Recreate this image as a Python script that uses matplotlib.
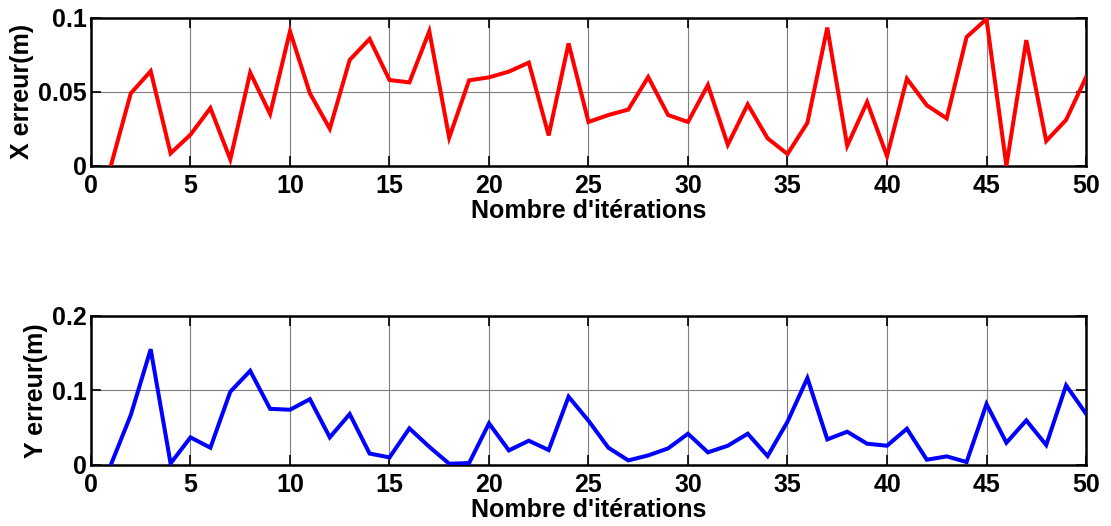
import matplotlib
matplotlib.use("Agg")
import matplotlib.pyplot as plt
import numpy as np

iterations = list(range(1, 51))

x_error = [0.000, 0.049, 0.064, 0.0084, 0.021, 0.039, 0.0043, 0.063, 0.035, 0.091,
           0.049, 0.025, 0.0716, 0.0858, 0.058, 0.0564, 0.091, 0.019, 0.0578, 0.0598,
           0.0637, 0.0698, 0.0205, 0.0828, 0.0296, 0.0343, 0.038, 0.060, 0.0343, 0.0296,
           0.0546, 0.0142, 0.0415, 0.0185, 0.0079, 0.029, 0.0935, 0.0135, 0.0431, 0.0065,
           0.0589, 0.0409, 0.032, 0.0871, 0.0993, 0.000, 0.085, 0.0167, 0.031, 0.0598]

y_error = [0.000, 0.0667, 0.155, 0.0018, 0.0367, 0.0228, 0.098, 0.126, 0.075, 0.0738,
           0.088, 0.0367, 0.068, 0.015, 0.0098, 0.0488, 0.024, 0.0013, 0.0022, 0.0555,
           0.0192, 0.0322, 0.0197, 0.0913, 0.059, 0.0228, 0.0058, 0.0125, 0.0219, 0.0416,
           0.0166, 0.0255, 0.0416, 0.0116, 0.0577, 0.1163, 0.034, 0.0443, 0.0282, 0.0255,
           0.0483, 0.0067, 0.0112, 0.0036, 0.0814, 0.0295, 0.0595, 0.0264, 0.1065, 0.0685]

x_ticks = [0, 5, 10, 15, 20, 25, 30, 35, 40, 45, 50]
top_yticks = [0, 0.05, 0.1]
top_yticklabels = ["0", "0.05", "0.1"]
bottom_yticks = [0, 0.1, 0.2]
bottom_yticklabels = ["0", "0.1", "0.2"]

xlabel_text = "Nombre d'itérations"
top_ylabel = "X erreur(m)"
bottom_ylabel = "Y erreur(m)"

plt.rcParams['font.family'] = ['Liberation Sans', 'DejaVu Sans']
plt.rcParams['font.weight'] = 'bold'
FS = 18

fig = plt.figure(figsize=(11.11, 5.26), dpi=100)
ax1 = fig.add_axes([0.0819, 0.685, 0.8956, 0.2808])
ax2 = fig.add_axes([0.0819, 0.1165, 0.8956, 0.2833])

panels = [
    (ax1, x_error, "#ff0000", top_yticks, top_yticklabels, (0, 0.1), top_ylabel),
    (ax2, y_error, "#0000ff", bottom_yticks, bottom_yticklabels, (0, 0.2), bottom_ylabel),
]

for ax, values, color, yt, ytl, ylim, ylab in panels:
    ax.plot(iterations, values, color=color, linewidth=2.9, solid_joinstyle='miter',
            clip_on=True, zorder=3)
    ax.set_xlim(0, 50)
    ax.set_ylim(*ylim)
    ax.set_xticks(x_ticks)
    ax.set_yticks(yt)
    ax.set_yticklabels(ytl)
    ax.grid(True, color='#7f7f7f', linewidth=0.8, linestyle='-', zorder=1)
    ax.tick_params(direction='in', length=7, width=1.2, labelsize=FS,
                   top=True, right=True)
    ax.tick_params(axis='x', pad=6)
    ax.tick_params(axis='y', pad=3)
    for lab in ax.get_xticklabels() + ax.get_yticklabels():
        lab.set_fontweight('bold')
    for sp in ax.spines.values():
        sp.set_linewidth(1.8)
        sp.set_color('black')
    ax.set_xlabel(xlabel_text, fontsize=FS, fontweight='bold', labelpad=1)
    ax.set_ylabel(ylab, fontsize=FS, fontweight='bold', labelpad=3)

fig.savefig("out.png", dpi=100)
